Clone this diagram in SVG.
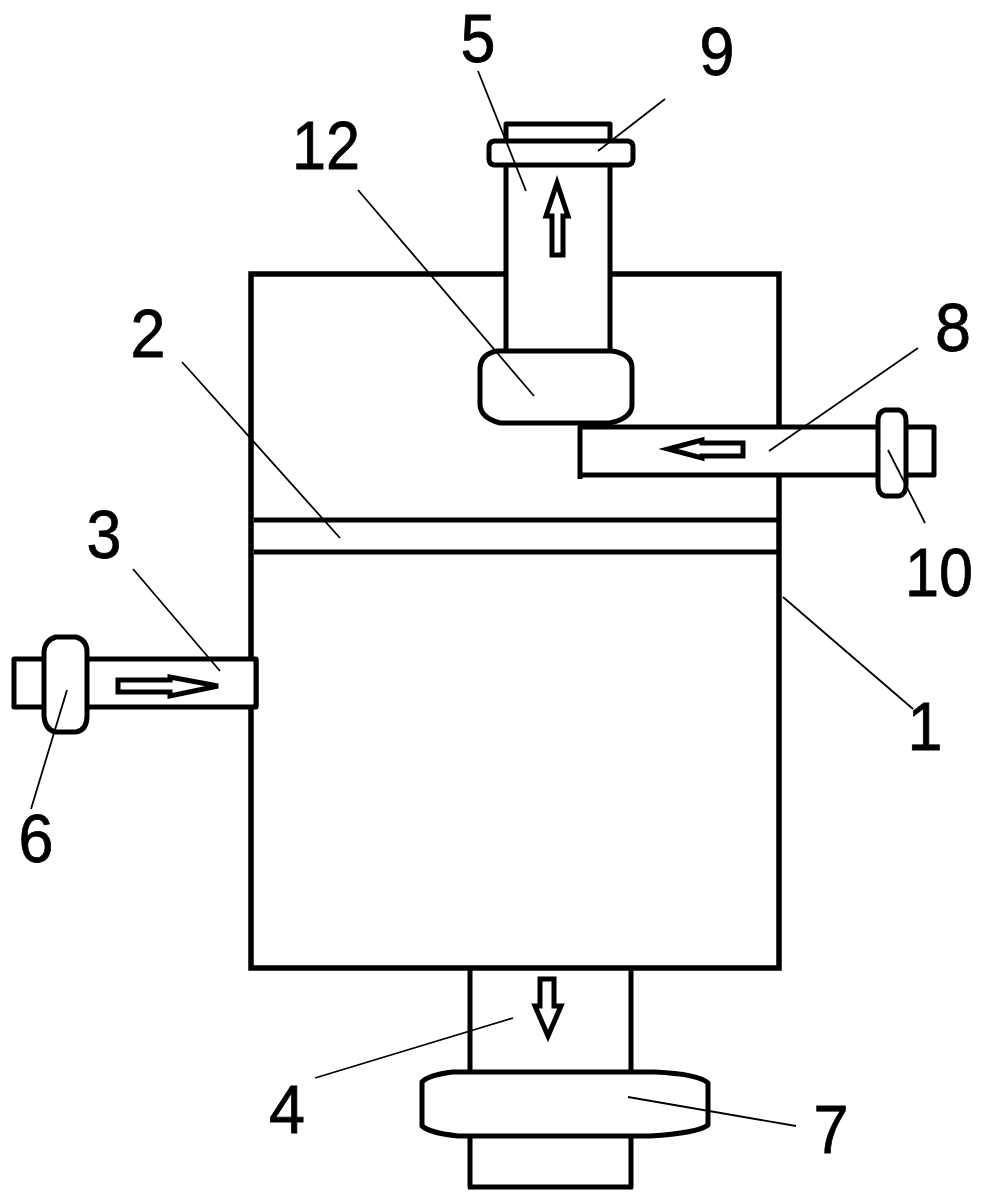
<svg xmlns="http://www.w3.org/2000/svg" width="984" height="1203" viewBox="0 0 984 1203">
<style>
.s{fill:none;stroke:#000;stroke-width:5;stroke-linejoin:round}
.b{fill:none;stroke:#000;stroke-width:5.5;stroke-linejoin:miter}
.f{fill:#fff;stroke:#000;stroke-width:5;stroke-linejoin:round}
.a{fill:#fff;stroke:#000;stroke-width:5;stroke-linejoin:miter}
.l{fill:none;stroke:#000;stroke-width:1.8}
text{font-family:"Liberation Sans",Arial,sans-serif;font-size:68px;fill:#000;stroke:#000;stroke-width:.8;text-anchor:middle}
</style>
<rect width="984" height="1203" fill="#fff"/>
<g id="body-1"><path class="b" d="M505 274H251V968H779V475M779 427V274H610"/></g>
<g id="band-2"><path class="s" d="M254 520H777M254 552H777"/></g>
<g id="pipe-3"><rect x="14" y="659" width="242" height="48" class="f"/><path d="M251 662V704" stroke="#fff" stroke-width="6"/><path class="s" d="M256 659V707"/></g>
<g id="pipe-4"><path class="s" d="M470 968V1187H631V968M468 1187H633"/></g>
<g id="pipe-5"><path class="f" d="M506 352V124H610V352"/></g>
<g id="pipe-8"><path class="f" d="M580 479V427H934V475H580"/><path d="M779 430V472" stroke="#fff" stroke-width="7"/></g>
<g id="flange-6"><path class="f" d="M56 637H76Q87 640 87 652V716Q87 730 76 732H56Q45 730 44 716V652Q45 640 56 637Z"/></g>
<g id="flange-7"><path class="f" d="M453 1072H655Q698 1074 708 1083V1125Q698 1133 650 1136H458Q430 1133 422 1126V1082Q428 1075 453 1072Z"/></g>
<g id="flange-9"><path class="f" d="M494 141H628Q633 142 633 147V159Q633 164 628 165H494Q489 164 489 159V147Q489 142 494 141Z"/></g>
<g id="flange-10"><path class="f" d="M885 410H899Q906 412 906 420V485Q906 494 899 496H885Q878 494 878 485V420Q878 412 885 410Z"/></g>
<g id="nut-12"><path class="f" d="M497 351H612Q632 354 632 368V405Q632 418 610 423H500Q481 418 480 405V368Q481 354 497 351Z"/></g>
<g id="arrows">
<path class="a" d="M552 255V216H546L557 183L568 216H563V255Z"/>
<path class="a" d="M743 443V456H702V458L668 449L702 440V443Z"/>
<path class="a" d="M118 680V692H170V696L218 686L170 677V680Z"/>
<path class="a" d="M540 979H554V1006H561L548 1036L535 1006H540Z"/>
</g>
<g id="connectors">
<path class="l" d="M478 71L526 191"/>
<path class="l" d="M665 99L598 151"/>
<path class="l" d="M358 190L534 396"/>
<path class="l" d="M918 348L769 451"/>
<path class="l" d="M888 450L925 523"/>
<path class="l" d="M783 597L913 709"/>
<path class="l" d="M182 362L340 538"/>
<path class="l" d="M133 569L220 671"/>
<path class="l" d="M67 690L31 809"/>
<path class="l" d="M315 1078L513 1018"/>
<path class="l" d="M628 1097L796 1126"/>
</g>
<g id="labels">
<text x="478" y="62" textLength="35" lengthAdjust="spacingAndGlyphs">5</text>
<text x="717" y="75" textLength="35" lengthAdjust="spacingAndGlyphs">9</text>
<text x="326" y="169" textLength="68" lengthAdjust="spacingAndGlyphs">12</text>
<text x="148" y="357" textLength="35" lengthAdjust="spacingAndGlyphs">2</text>
<text x="953" y="351" textLength="36" lengthAdjust="spacingAndGlyphs">8</text>
<text x="939" y="596" textLength="68" lengthAdjust="spacingAndGlyphs">10</text>
<text x="104" y="558" textLength="35" lengthAdjust="spacingAndGlyphs">3</text>
<text x="925" y="750" textLength="35" lengthAdjust="spacingAndGlyphs">1</text>
<text x="36" y="862" textLength="35" lengthAdjust="spacingAndGlyphs">6</text>
<text x="287" y="1133" textLength="36" lengthAdjust="spacingAndGlyphs">4</text>
<text x="831" y="1153" textLength="35" lengthAdjust="spacingAndGlyphs">7</text>
</g>
</svg>
